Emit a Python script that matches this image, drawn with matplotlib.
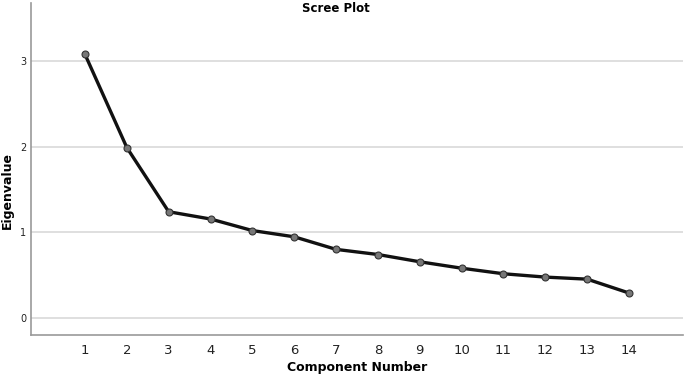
import matplotlib
matplotlib.use("Agg")
import matplotlib.pyplot as plt

components = list(range(1, 15))
eigenvalues = [3.08, 1.99, 1.24, 1.155, 1.02, 0.947, 0.80, 0.74, 0.655, 0.58, 0.515, 0.476, 0.452, 0.29]
y_ticks = [0, 1, 2, 3]

fig = plt.figure(figsize=(6.85, 3.77), dpi=100)
ax = fig.add_axes([31/685, 1 - 334.5/377, (683-31)/685, (334.5-3)/377])

ax.set_xlim(-0.29, 15.29)
ax.set_ylim(-0.195, 3.68)
ax.set_yticks(y_ticks)
ax.set_xticks(components)
ax.grid(axis='y', color='#d9d9d9', linewidth=1.2)
ax.set_axisbelow(True)

ax.plot(components, eigenvalues, color='#111111', linewidth=2.4,
        marker='o', markersize=5, markerfacecolor='#777777', markeredgecolor='#333333',
        markeredgewidth=0.8, zorder=3)

for s in ['top', 'right']:
    ax.spines[s].set_visible(False)
for s in ['left', 'bottom']:
    ax.spines[s].set_color('#999999')
    ax.spines[s].set_linewidth(1.2)

ax.tick_params(axis='both', length=0)
ax.tick_params(axis='y', labelsize=7, pad=3.5, labelcolor='#222222')
ax.tick_params(axis='x', labelsize=9.5, pad=7, labelcolor='#222222')

ax.set_xlabel('Component Number', fontsize=9, fontweight='bold', labelpad=3)
ax.set_ylabel('Eigenvalue', fontsize=9, fontweight='bold', va='center')
ax.yaxis.set_label_coords(-0.0355, 0.433)
fig.text(336/685, 1 - 9/377, 'Scree Plot', ha='center', va='center',
         fontsize=8.5, fontweight='bold')

fig.savefig('out.png', dpi=100)
